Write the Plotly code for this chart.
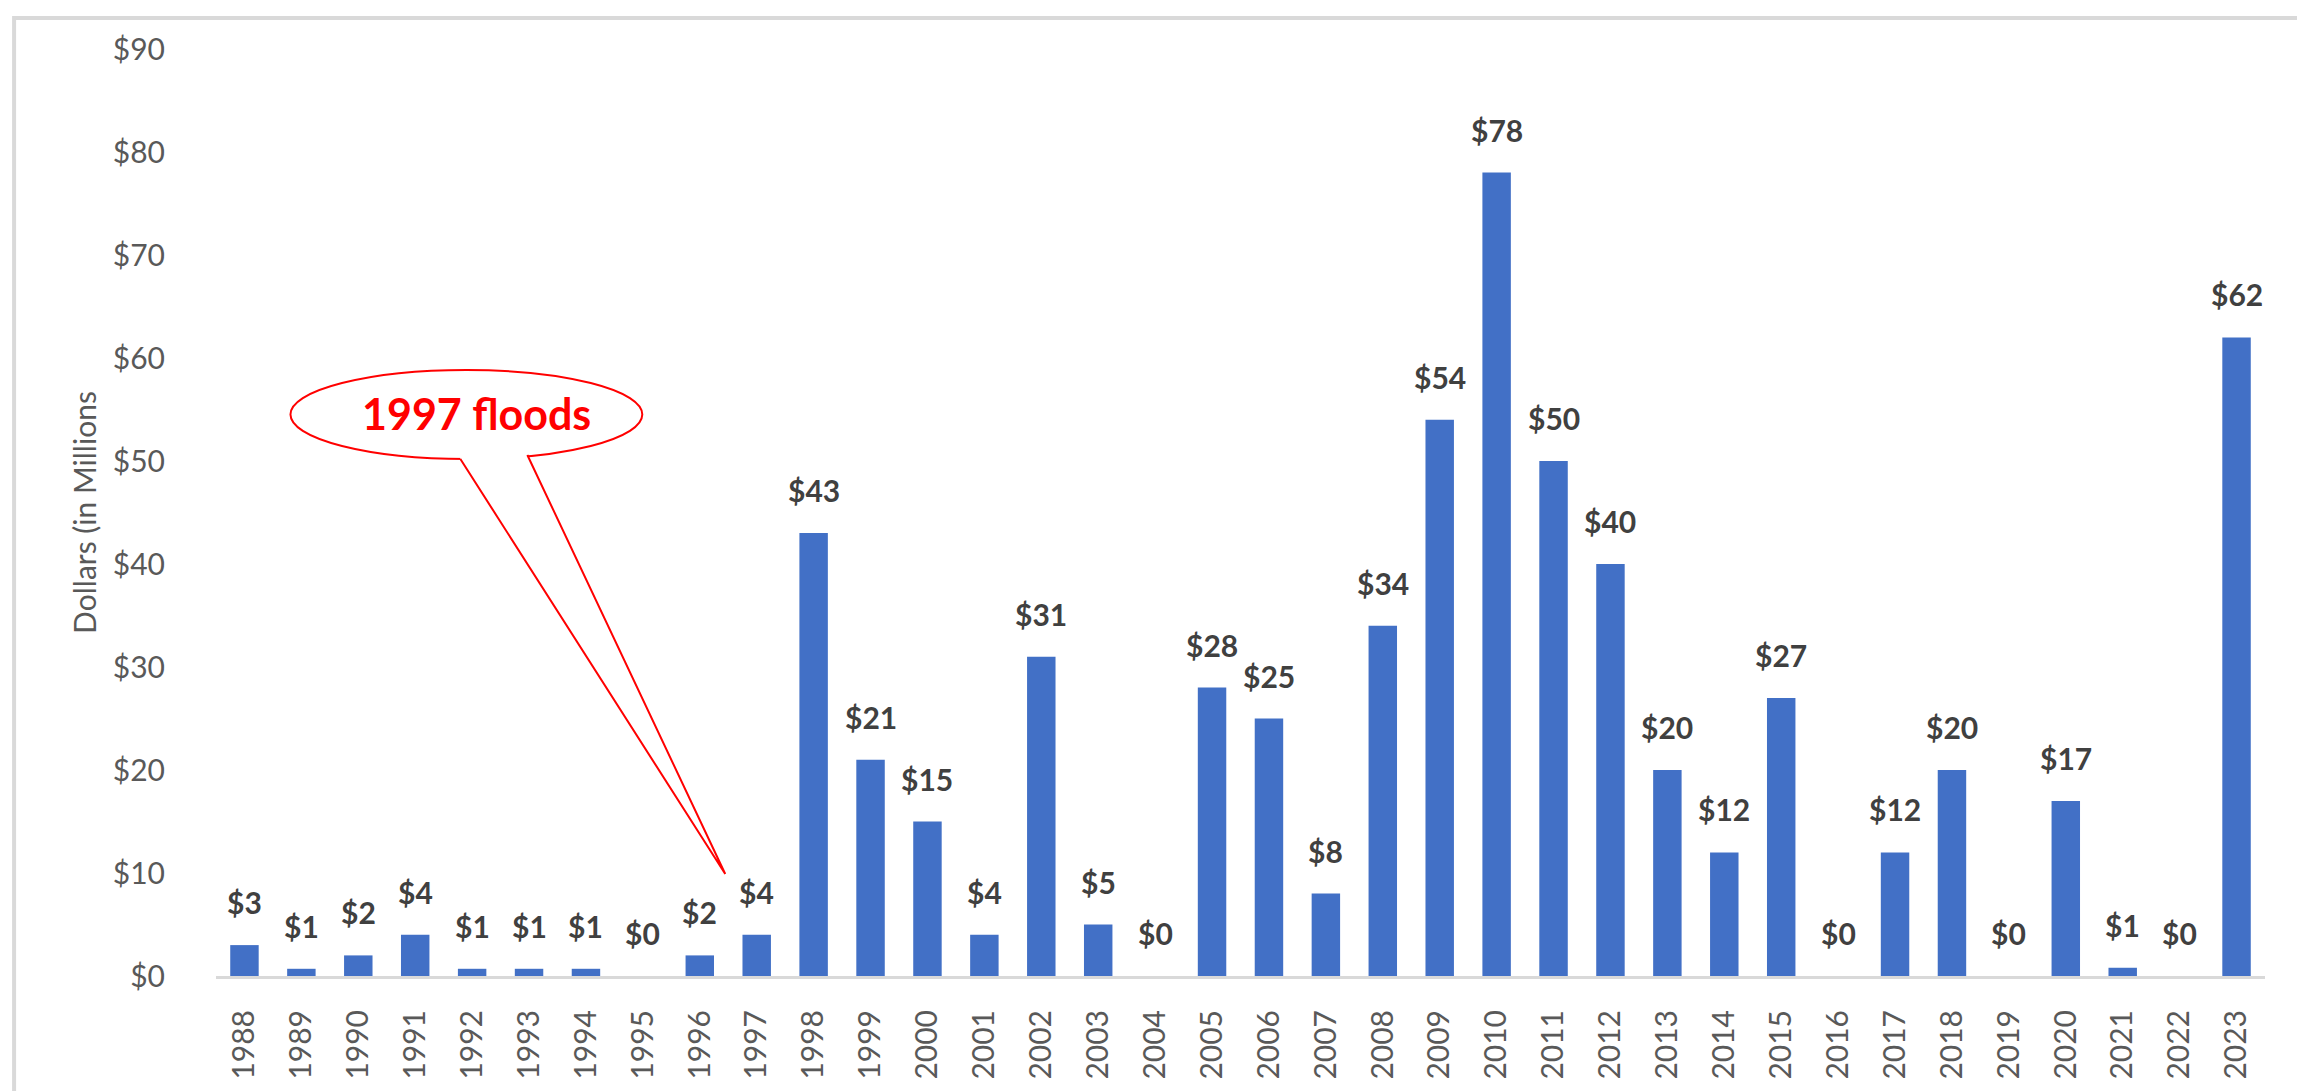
import plotly.graph_objects as go

years = [str(y) for y in range(1988, 2024)]
values = [3, 0.7, 2, 4, 0.7, 0.7, 0.7, 0, 2, 4, 43, 21, 15, 4, 31, 5, 0, 28, 25, 8,
          34, 54, 78, 50, 40, 20, 12, 27, 0, 12, 20, 0, 17, 0.8, 0, 62]
y_ticks = list(range(0, 91, 10))
y_tick_labels = [f"${v}" for v in y_ticks]
y_title = "Dollars (in Millions"
callout_text = "1997 floods"

W, H = 2305, 1091
L, R, T, B = 207.5, 47.5, 41, 123
PW, PH = W - L - R, H - T - B


def px(x):
    return (x - L) / PW


def py(y):
    return (H - B - y) / PH


fig = go.Figure()
fig.add_trace(go.Bar(
    x=years, y=values, width=0.5,
    marker=dict(color="#4270c6", line=dict(width=0)),
    hoverinfo="x+y",
))

annotations = []
for i, v in enumerate(values):
    annotations.append(dict(
        x=i, y=v, xref="x", yref="y", text=f"<b>${v:.0f}</b>", showarrow=False,
        xanchor="center", yanchor="bottom", yshift=23,
        font=dict(family="Lato", size=30, color="#404040"),
    ))

annotations.append(dict(
    x=px(468), y=py(406), xref="paper", yref="paper", text=f"<b>{callout_text}</b>",
    showarrow=False, xanchor="center", yanchor="middle",
    font=dict(family="Lato", size=43, color="#ff0000"),
))

A = (452, 451); Tp = (717, 866); Bp = (519, 447)
shapes = [
    # outer frame
    dict(type="rect", xref="paper", yref="paper", x0=px(5.5), x1=px(2299.5), y0=py(1110), y1=py(10),
         line=dict(color="#d9d9d9", width=4), fillcolor="rgba(0,0,0,0)", layer="below"),
    # callout ellipse
    dict(type="circle", xref="paper", yref="paper", x0=px(282), x1=px(634), y0=py(451), y1=py(362),
         line=dict(color="#ff0000", width=2), fillcolor="white"),
    # tail fill (covers ellipse edge)
    dict(type="path", xref="paper", yref="paper",
         path=f"M {px(A[0])} {py(A[1] - 10)} L {px(A[0])} {py(A[1])} L {px(Tp[0])} {py(Tp[1])} "
              f"L {px(Bp[0])} {py(Bp[1])} L {px(Bp[0])} {py(Bp[1] - 10)} Z",
         line=dict(width=0), fillcolor="white"),
    dict(type="path", xref="paper", yref="paper",
         path=f"M {px(A[0])} {py(A[1])} L {px(Tp[0])} {py(Tp[1])} L {px(Bp[0])} {py(Bp[1])}",
         line=dict(color="#ff0000", width=2)),
]

fig.update_layout(
    width=W, height=H,
    margin=dict(l=L, r=R, t=T, b=B, autoexpand=False),
    paper_bgcolor="white", plot_bgcolor="white",
    showlegend=False,
    bargap=0.5,
    font=dict(family="Lato", color="#595959"),
    annotations=annotations,
    shapes=shapes,
    xaxis=dict(
        type="category", range=[-0.5, 35.5], tickangle=-90,
        tickfont=dict(family="Lato", size=30, color="#595959"),
        showline=True, linecolor="#d9d9d9", linewidth=3,
        showgrid=False, ticks="", ticklabelstandoff=19,
    ),
    yaxis=dict(
        range=[0, 90], tickvals=y_ticks, ticktext=y_tick_labels,
        tickfont=dict(family="Lato", size=30, color="#595959"),
        showgrid=False, zeroline=False, showline=False, ticks="",
        ticklabelstandoff=50,
        title=dict(text=y_title, font=dict(family="Lato", size=30, color="#595959"), standoff=7),
    ),
)

fig.write_html("out.html")
